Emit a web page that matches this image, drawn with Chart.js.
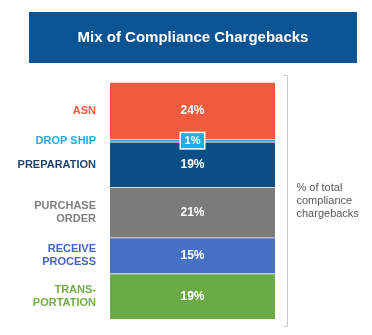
<!DOCTYPE html>
<html>
<head>
<meta charset="utf-8">
<script src="https://cdn.jsdelivr.net/npm/chart.js@4/dist/chart.umd.min.js"></script>
<style>
  html, body { margin: 0; padding: 0; background: #fff; }
  #wrap { width: 372px; height: 335px; }
</style>
</head>
<body>
<div id="wrap"><canvas id="mixChart" width="372" height="335"></canvas></div>
<script>
const chartTitle = 'Mix of Compliance Chargebacks';
const categories = [['ASN'], ['DROP SHIP'], ['PREPARATION'], ['PURCHASE', 'ORDER'], ['RECEIVE', 'PROCESS'], ['TRANS-', 'PORTATION']];
const shares = [24, 1, 19, 21, 15, 19];
const barColors = ['#ef5b3c', '#29abe2', '#0c4f86', '#7b7b7b', '#4471c4', '#6bab45'];
const labelColors = ['#ef5b3c', '#29abe2', '#1e4470', '#7f7f7f', '#4466bb', '#70ad47'];
const sideNote = ['% of total', 'compliance', 'chargebacks'];

const FONT = '"Liberation Sans", Arial, sans-serif';

const overlay = {
  id: 'overlay',
  afterDatasetsDraw(chart) {
    const ctx = chart.ctx;
    const area = chart.chartArea;
    const y = chart.scales.y;
    const midX = (area.left + area.right) / 2;

    // title box
    ctx.save();
    ctx.fillStyle = '#0a5494';
    ctx.fillRect(29, 12, 328, 51);
    ctx.fillStyle = '#ffffff';
    ctx.font = 'bold 15px ' + FONT;
    ctx.textAlign = 'center';
    ctx.textBaseline = 'middle';
    ctx.fillText(chartTitle, 193, 38);

    let start = 0;
    shares.forEach((v, i) => {
      const mid = y.getPixelForValue(start + v / 2);
      start += v;

      // category label on the left
      ctx.font = 'bold 11px ' + FONT;
      ctx.textAlign = 'right';
      ctx.fillStyle = labelColors[i];
      const lines = categories[i];
      const lh = 13.5;
      lines.forEach((t, k) => {
        ctx.fillText(t, area.left - 14, mid + (k - (lines.length - 1) / 2) * lh);
      });

      // value label
      ctx.textAlign = 'center';
      if (v < 5) {
        ctx.fillStyle = '#ffffff';
        ctx.fillRect(midX - 13, mid - 9, 26, 18);
        ctx.fillStyle = barColors[i];
        ctx.fillRect(midX - 11.5, mid - 7.5, 23, 15);
        ctx.fillStyle = '#ffffff';
        ctx.font = 'bold 11px ' + FONT;
        ctx.fillText(v + '%', midX, mid + 0.5);
      } else {
        ctx.fillStyle = '#ffffff';
        ctx.font = 'bold 12px ' + FONT;
        ctx.fillText(v + '%', midX, mid);
      }
    });

    // bracket on the right
    const bx = area.right + 12.5;
    const top = area.top - 7;
    const bottom = area.bottom + 8;
    ctx.strokeStyle = '#c9c9c9';
    ctx.lineWidth = 1;
    ctx.beginPath();
    ctx.moveTo(bx - 4, top + 0.5);
    ctx.lineTo(bx, top + 0.5);
    ctx.lineTo(bx, bottom - 0.5);
    ctx.lineTo(bx - 4, bottom - 0.5);
    ctx.stroke();

    // side note
    ctx.fillStyle = '#595959';
    ctx.font = '11px ' + FONT;
    ctx.textAlign = 'left';
    const noteMid = (area.top + area.bottom) / 2 + 0.5;
    sideNote.forEach((t, k) => {
      ctx.fillText(t, bx + 9, noteMid + (k - 1) * 13.3);
    });
    ctx.restore();
  }
};

new Chart(document.getElementById('mixChart'), {
  type: 'bar',
  data: {
    labels: ['mix'],
    datasets: shares.map((v, i) => ({
      label: categories[i].join(' '),
      data: [v],
      backgroundColor: barColors[i],
      borderColor: '#ffffff',
      borderWidth: { top: 1, bottom: 0, left: 0, right: 0 },
      borderSkipped: false,
      categoryPercentage: 1,
      barPercentage: 1,
    })),
  },
  options: {
    responsive: false,
    animation: false,
    layout: { padding: { left: 110, right: 97, top: 82, bottom: 16 } },
    plugins: {
      legend: { display: false },
      tooltip: { enabled: false },
      title: { display: false },
    },
    scales: {
      x: { stacked: true, display: false },
      y: { stacked: true, display: false, reverse: true, min: 0, max: 99 },
    },
  },
  plugins: [overlay],
});
</script>
</body>
</html>
